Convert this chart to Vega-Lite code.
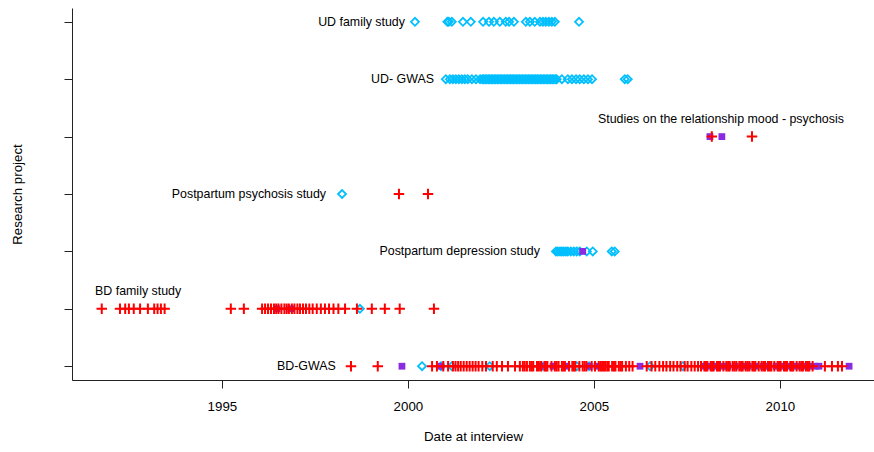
{
  "$schema": "https://vega.github.io/schema/vega-lite/v6.json",
  "width": 802,
  "height": 372,
  "autosize": {"type": "none"},
  "padding": {"left": 72, "top": 8, "right": 0, "bottom": 72},
  "background": "white",
  "config": {
    "view": {"stroke": null},
    "font": "Liberation Sans",
    "axis": {"domainColor": "#222", "tickColor": "#222", "labelColor": "#000", "titleColor": "#000", "labelFont": "Liberation Sans", "titleFont": "Liberation Sans", "labelFontSize": 13.3, "titleFontSize": 13.3, "titleFontWeight": "normal", "grid": false, "tickSize": 8}
  },
  "datasets": {
    "points": [
      {"row": 7, "date": 2000.19, "group": "UD"}, {"row": 7, "date": 2001.06, "group": "UD"}, {"row": 7, "date": 2001.10, "group": "UD"}, {"row": 7, "date": 2001.18, "group": "UD"}, {"row": 7, "date": 2001.48, "group": "UD"}, {"row": 7, "date": 2001.69, "group": "UD"}, {"row": 7, "date": 2002.02, "group": "UD"}, {"row": 7, "date": 2002.18, "group": "UD"}, {"row": 7, "date": 2002.31, "group": "UD"}, {"row": 7, "date": 2002.47, "group": "UD"}, {"row": 7, "date": 2002.63, "group": "UD"}, {"row": 7, "date": 2002.72, "group": "UD"}, {"row": 7, "date": 2002.85, "group": "UD"}, {"row": 7, "date": 2003.17, "group": "UD"}, {"row": 7, "date": 2003.28, "group": "UD"}, {"row": 7, "date": 2003.41, "group": "UD"}, {"row": 7, "date": 2003.55, "group": "UD"}, {"row": 7, "date": 2003.63, "group": "UD"}, {"row": 7, "date": 2003.71, "group": "UD"}, {"row": 7, "date": 2003.79, "group": "UD"}, {"row": 7, "date": 2003.87, "group": "UD"}, {"row": 7, "date": 2003.95, "group": "UD"}, {"row": 7, "date": 2004.60, "group": "UD"},
      {"row": 6, "date": 2001.02, "group": "UD"}, {"row": 6, "date": 2001.13, "group": "UD"}, {"row": 6, "date": 2001.21, "group": "UD"}, {"row": 6, "date": 2001.29, "group": "UD"}, {"row": 6, "date": 2001.37, "group": "UD"}, {"row": 6, "date": 2001.45, "group": "UD"}, {"row": 6, "date": 2001.53, "group": "UD"}, {"row": 6, "date": 2001.61, "group": "UD"}, {"row": 6, "date": 2001.72, "group": "UD"}, {"row": 6, "date": 2001.83, "group": "UD"}, {"row": 6, "date": 2001.94, "group": "UD"},
      {"row": 6, "date": 2002.00, "group": "UD"}, {"row": 6, "date": 2002.04, "group": "UD"}, {"row": 6, "date": 2002.08, "group": "UD"}, {"row": 6, "date": 2002.12, "group": "UD"}, {"row": 6, "date": 2002.16, "group": "UD"}, {"row": 6, "date": 2002.20, "group": "UD"}, {"row": 6, "date": 2002.24, "group": "UD"}, {"row": 6, "date": 2002.28, "group": "UD"}, {"row": 6, "date": 2002.32, "group": "UD"}, {"row": 6, "date": 2002.36, "group": "UD"}, {"row": 6, "date": 2002.40, "group": "UD"}, {"row": 6, "date": 2002.44, "group": "UD"}, {"row": 6, "date": 2002.48, "group": "UD"}, {"row": 6, "date": 2002.52, "group": "UD"}, {"row": 6, "date": 2002.56, "group": "UD"}, {"row": 6, "date": 2002.60, "group": "UD"}, {"row": 6, "date": 2002.64, "group": "UD"}, {"row": 6, "date": 2002.68, "group": "UD"}, {"row": 6, "date": 2002.72, "group": "UD"}, {"row": 6, "date": 2002.76, "group": "UD"}, {"row": 6, "date": 2002.80, "group": "UD"}, {"row": 6, "date": 2002.84, "group": "UD"}, {"row": 6, "date": 2002.88, "group": "UD"}, {"row": 6, "date": 2002.92, "group": "UD"}, {"row": 6, "date": 2002.96, "group": "UD"}, {"row": 6, "date": 2003.00, "group": "UD"}, {"row": 6, "date": 2003.04, "group": "UD"}, {"row": 6, "date": 2003.08, "group": "UD"}, {"row": 6, "date": 2003.12, "group": "UD"}, {"row": 6, "date": 2003.16, "group": "UD"}, {"row": 6, "date": 2003.20, "group": "UD"}, {"row": 6, "date": 2003.24, "group": "UD"}, {"row": 6, "date": 2003.28, "group": "UD"}, {"row": 6, "date": 2003.32, "group": "UD"}, {"row": 6, "date": 2003.36, "group": "UD"}, {"row": 6, "date": 2003.40, "group": "UD"}, {"row": 6, "date": 2003.44, "group": "UD"}, {"row": 6, "date": 2003.48, "group": "UD"}, {"row": 6, "date": 2003.52, "group": "UD"}, {"row": 6, "date": 2003.56, "group": "UD"}, {"row": 6, "date": 2003.60, "group": "UD"}, {"row": 6, "date": 2003.64, "group": "UD"}, {"row": 6, "date": 2003.68, "group": "UD"}, {"row": 6, "date": 2003.72, "group": "UD"}, {"row": 6, "date": 2003.76, "group": "UD"}, {"row": 6, "date": 2003.80, "group": "UD"}, {"row": 6, "date": 2003.84, "group": "UD"}, {"row": 6, "date": 2003.88, "group": "UD"}, {"row": 6, "date": 2003.92, "group": "UD"}, {"row": 6, "date": 2003.96, "group": "UD"}, {"row": 6, "date": 2004.00, "group": "UD"},
      {"row": 6, "date": 2004.14, "group": "UD"}, {"row": 6, "date": 2004.30, "group": "UD"}, {"row": 6, "date": 2004.41, "group": "UD"}, {"row": 6, "date": 2004.52, "group": "UD"}, {"row": 6, "date": 2004.62, "group": "UD"}, {"row": 6, "date": 2004.73, "group": "UD"}, {"row": 6, "date": 2004.84, "group": "UD"}, {"row": 6, "date": 2004.95, "group": "UD"}, {"row": 6, "date": 2005.83, "group": "UD"}, {"row": 6, "date": 2005.91, "group": "UD"},
      {"row": 4, "date": 1998.23, "group": "UD"},
      {"row": 3, "date": 2003.98, "group": "UD"}, {"row": 3, "date": 2004.03, "group": "UD"}, {"row": 3, "date": 2004.09, "group": "UD"}, {"row": 3, "date": 2004.14, "group": "UD"}, {"row": 3, "date": 2004.19, "group": "UD"}, {"row": 3, "date": 2004.25, "group": "UD"}, {"row": 3, "date": 2004.30, "group": "UD"}, {"row": 3, "date": 2004.38, "group": "UD"}, {"row": 3, "date": 2004.46, "group": "UD"}, {"row": 3, "date": 2004.54, "group": "UD"}, {"row": 3, "date": 2004.62, "group": "UD"}, {"row": 3, "date": 2004.81, "group": "UD"}, {"row": 3, "date": 2004.97, "group": "UD"}, {"row": 3, "date": 2005.48, "group": "UD"}, {"row": 3, "date": 2005.56, "group": "UD"},
      {"row": 2, "date": 1998.71, "group": "UD"},
      {"row": 1, "date": 2000.38, "group": "UD"}, {"row": 1, "date": 2000.89, "group": "UD"}, {"row": 1, "date": 2001.18, "group": "UD"}, {"row": 1, "date": 2002.20, "group": "UD"}, {"row": 1, "date": 2003.60, "group": "UD"}, {"row": 1, "date": 2004.54, "group": "UD"}, {"row": 1, "date": 2004.87, "group": "UD"}, {"row": 1, "date": 2006.51, "group": "UD"}, {"row": 1, "date": 2007.39, "group": "UD"},

      {"row": 5, "date": 2008.12, "group": "other"}, {"row": 5, "date": 2008.44, "group": "other"},
      {"row": 3, "date": 2004.70, "group": "other"},
      {"row": 2, "date": 1996.48, "group": "other"}, {"row": 2, "date": 1996.85, "group": "other"},
      {"row": 1, "date": 1999.84, "group": "other"}, {"row": 1, "date": 2000.89, "group": "other"}, {"row": 1, "date": 2003.55, "group": "other"}, {"row": 1, "date": 2003.90, "group": "other"}, {"row": 1, "date": 2004.27, "group": "other"}, {"row": 1, "date": 2004.87, "group": "other"}, {"row": 1, "date": 2005.08, "group": "other"}, {"row": 1, "date": 2006.24, "group": "other"}, {"row": 1, "date": 2007.95, "group": "other"}, {"row": 1, "date": 2008.10, "group": "other"}, {"row": 1, "date": 2008.25, "group": "other"}, {"row": 1, "date": 2008.45, "group": "other"}, {"row": 1, "date": 2008.60, "group": "other"}, {"row": 1, "date": 2008.80, "group": "other"}, {"row": 1, "date": 2009.00, "group": "other"}, {"row": 1, "date": 2009.15, "group": "other"}, {"row": 1, "date": 2009.35, "group": "other"}, {"row": 1, "date": 2009.55, "group": "other"}, {"row": 1, "date": 2009.70, "group": "other"}, {"row": 1, "date": 2009.90, "group": "other"}, {"row": 1, "date": 2010.05, "group": "other"}, {"row": 1, "date": 2010.25, "group": "other"}, {"row": 1, "date": 2010.45, "group": "other"}, {"row": 1, "date": 2010.60, "group": "other"}, {"row": 1, "date": 2010.80, "group": "other"}, {"row": 1, "date": 2010.95, "group": "other"}, {"row": 1, "date": 2011.05, "group": "other"}, {"row": 1, "date": 2011.86, "group": "other"},

      {"row": 5, "date": 2008.17, "group": "BD"}, {"row": 5, "date": 2009.25, "group": "BD"},
      {"row": 4, "date": 1999.76, "group": "BD"}, {"row": 4, "date": 2000.54, "group": "BD"},
      {"row": 2, "date": 1991.77, "group": "BD"}, {"row": 2, "date": 1992.26, "group": "BD"}, {"row": 2, "date": 1992.40, "group": "BD"}, {"row": 2, "date": 1992.50, "group": "BD"}, {"row": 2, "date": 1992.63, "group": "BD"}, {"row": 2, "date": 1992.80, "group": "BD"}, {"row": 2, "date": 1993.01, "group": "BD"}, {"row": 2, "date": 1993.18, "group": "BD"}, {"row": 2, "date": 1993.27, "group": "BD"}, {"row": 2, "date": 1993.36, "group": "BD"}, {"row": 2, "date": 1993.46, "group": "BD"},
      {"row": 2, "date": 1995.24, "group": "BD"}, {"row": 2, "date": 1995.59, "group": "BD"},
      {"row": 2, "date": 1996.08, "group": "BD"}, {"row": 2, "date": 1996.16, "group": "BD"}, {"row": 2, "date": 1996.24, "group": "BD"}, {"row": 2, "date": 1996.32, "group": "BD"}, {"row": 2, "date": 1996.40, "group": "BD"}, {"row": 2, "date": 1996.46, "group": "BD"}, {"row": 2, "date": 1996.52, "group": "BD"}, {"row": 2, "date": 1996.60, "group": "BD"}, {"row": 2, "date": 1996.68, "group": "BD"}, {"row": 2, "date": 1996.74, "group": "BD"}, {"row": 2, "date": 1996.80, "group": "BD"}, {"row": 2, "date": 1996.88, "group": "BD"}, {"row": 2, "date": 1996.95, "group": "BD"}, {"row": 2, "date": 1997.03, "group": "BD"}, {"row": 2, "date": 1997.10, "group": "BD"}, {"row": 2, "date": 1997.18, "group": "BD"}, {"row": 2, "date": 1997.26, "group": "BD"}, {"row": 2, "date": 1997.35, "group": "BD"}, {"row": 2, "date": 1997.44, "group": "BD"}, {"row": 2, "date": 1997.55, "group": "BD"}, {"row": 2, "date": 1997.66, "group": "BD"}, {"row": 2, "date": 1997.77, "group": "BD"}, {"row": 2, "date": 1997.88, "group": "BD"}, {"row": 2, "date": 1998.00, "group": "BD"}, {"row": 2, "date": 1998.13, "group": "BD"}, {"row": 2, "date": 1998.31, "group": "BD"}, {"row": 2, "date": 1998.63, "group": "BD"}, {"row": 2, "date": 1999.03, "group": "BD"}, {"row": 2, "date": 1999.38, "group": "BD"}, {"row": 2, "date": 1999.78, "group": "BD"}, {"row": 2, "date": 2000.70, "group": "BD"},
      {"row": 1, "date": 1998.47, "group": "BD"}, {"row": 1, "date": 1999.19, "group": "BD"}, {"row": 1, "date": 2000.65, "group": "BD"}, {"row": 1, "date": 2000.78, "group": "BD"}, {"row": 1, "date": 2000.95, "group": "BD"}, {"row": 1, "date": 2001.08, "group": "BD"}, {"row": 1, "date": 2001.21, "group": "BD"}, {"row": 1, "date": 2001.28, "group": "BD"}, {"row": 1, "date": 2001.35, "group": "BD"}, {"row": 1, "date": 2001.42, "group": "BD"}, {"row": 1, "date": 2001.50, "group": "BD"}, {"row": 1, "date": 2001.58, "group": "BD"}, {"row": 1, "date": 2001.66, "group": "BD"}, {"row": 1, "date": 2001.74, "group": "BD"}, {"row": 1, "date": 2001.82, "group": "BD"}, {"row": 1, "date": 2001.90, "group": "BD"}, {"row": 1, "date": 2002.00, "group": "BD"}, {"row": 1, "date": 2002.10, "group": "BD"}, {"row": 1, "date": 2002.28, "group": "BD"}, {"row": 1, "date": 2002.39, "group": "BD"}, {"row": 1, "date": 2002.53, "group": "BD"}, {"row": 1, "date": 2002.69, "group": "BD"}, {"row": 1, "date": 2002.88, "group": "BD"},
      {"row": 1, "date": 2003.01, "group": "BD"}, {"row": 1, "date": 2003.09, "group": "BD"}, {"row": 1, "date": 2003.14, "group": "BD"}, {"row": 1, "date": 2003.20, "group": "BD"}, {"row": 1, "date": 2003.28, "group": "BD"}, {"row": 1, "date": 2003.33, "group": "BD"}, {"row": 1, "date": 2003.37, "group": "BD"}, {"row": 1, "date": 2003.47, "group": "BD"}, {"row": 1, "date": 2003.52, "group": "BD"}, {"row": 1, "date": 2003.58, "group": "BD"}, {"row": 1, "date": 2003.67, "group": "BD"}, {"row": 1, "date": 2003.71, "group": "BD"}, {"row": 1, "date": 2003.75, "group": "BD"}, {"row": 1, "date": 2003.86, "group": "BD"}, {"row": 1, "date": 2003.95, "group": "BD"}, {"row": 1, "date": 2004.00, "group": "BD"}, {"row": 1, "date": 2004.05, "group": "BD"}, {"row": 1, "date": 2004.14, "group": "BD"}, {"row": 1, "date": 2004.18, "group": "BD"}, {"row": 1, "date": 2004.22, "group": "BD"}, {"row": 1, "date": 2004.33, "group": "BD"}, {"row": 1, "date": 2004.42, "group": "BD"}, {"row": 1, "date": 2004.46, "group": "BD"}, {"row": 1, "date": 2004.50, "group": "BD"}, {"row": 1, "date": 2004.61, "group": "BD"}, {"row": 1, "date": 2004.70, "group": "BD"}, {"row": 1, "date": 2004.75, "group": "BD"}, {"row": 1, "date": 2004.80, "group": "BD"}, {"row": 1, "date": 2004.94, "group": "BD"}, {"row": 1, "date": 2005.03, "group": "BD"}, {"row": 1, "date": 2005.13, "group": "BD"}, {"row": 1, "date": 2005.18, "group": "BD"}, {"row": 1, "date": 2005.22, "group": "BD"}, {"row": 1, "date": 2005.27, "group": "BD"}, {"row": 1, "date": 2005.31, "group": "BD"}, {"row": 1, "date": 2005.36, "group": "BD"}, {"row": 1, "date": 2005.40, "group": "BD"}, {"row": 1, "date": 2005.49, "group": "BD"}, {"row": 1, "date": 2005.54, "group": "BD"}, {"row": 1, "date": 2005.58, "group": "BD"}, {"row": 1, "date": 2005.67, "group": "BD"}, {"row": 1, "date": 2005.72, "group": "BD"}, {"row": 1, "date": 2005.76, "group": "BD"}, {"row": 1, "date": 2005.86, "group": "BD"}, {"row": 1, "date": 2005.95, "group": "BD"}, {"row": 1, "date": 2006.04, "group": "BD"},
      {"row": 1, "date": 2006.42, "group": "BD"}, {"row": 1, "date": 2006.55, "group": "BD"}, {"row": 1, "date": 2006.65, "group": "BD"}, {"row": 1, "date": 2006.76, "group": "BD"}, {"row": 1, "date": 2006.86, "group": "BD"}, {"row": 1, "date": 2006.95, "group": "BD"}, {"row": 1, "date": 2007.05, "group": "BD"}, {"row": 1, "date": 2007.14, "group": "BD"}, {"row": 1, "date": 2007.24, "group": "BD"}, {"row": 1, "date": 2007.33, "group": "BD"}, {"row": 1, "date": 2007.44, "group": "BD"}, {"row": 1, "date": 2007.52, "group": "BD"}, {"row": 1, "date": 2007.62, "group": "BD"}, {"row": 1, "date": 2007.71, "group": "BD"}, {"row": 1, "date": 2007.80, "group": "BD"},
      {"row": 1, "date": 2007.88, "group": "BD"}, {"row": 1, "date": 2007.97, "group": "BD"}, {"row": 1, "date": 2008.01, "group": "BD"}, {"row": 1, "date": 2008.05, "group": "BD"}, {"row": 1, "date": 2008.14, "group": "BD"}, {"row": 1, "date": 2008.18, "group": "BD"}, {"row": 1, "date": 2008.22, "group": "BD"}, {"row": 1, "date": 2008.31, "group": "BD"}, {"row": 1, "date": 2008.35, "group": "BD"}, {"row": 1, "date": 2008.39, "group": "BD"}, {"row": 1, "date": 2008.48, "group": "BD"}, {"row": 1, "date": 2008.56, "group": "BD"}, {"row": 1, "date": 2008.61, "group": "BD"}, {"row": 1, "date": 2008.65, "group": "BD"}, {"row": 1, "date": 2008.73, "group": "BD"}, {"row": 1, "date": 2008.78, "group": "BD"}, {"row": 1, "date": 2008.83, "group": "BD"}, {"row": 1, "date": 2008.91, "group": "BD"}, {"row": 1, "date": 2008.96, "group": "BD"}, {"row": 1, "date": 2009.00, "group": "BD"}, {"row": 1, "date": 2009.08, "group": "BD"}, {"row": 1, "date": 2009.13, "group": "BD"}, {"row": 1, "date": 2009.18, "group": "BD"}, {"row": 1, "date": 2009.26, "group": "BD"}, {"row": 1, "date": 2009.30, "group": "BD"}, {"row": 1, "date": 2009.34, "group": "BD"}, {"row": 1, "date": 2009.43, "group": "BD"}, {"row": 1, "date": 2009.51, "group": "BD"}, {"row": 1, "date": 2009.56, "group": "BD"}, {"row": 1, "date": 2009.60, "group": "BD"}, {"row": 1, "date": 2009.68, "group": "BD"}, {"row": 1, "date": 2009.73, "group": "BD"}, {"row": 1, "date": 2009.77, "group": "BD"}, {"row": 1, "date": 2009.85, "group": "BD"}, {"row": 1, "date": 2009.94, "group": "BD"}, {"row": 1, "date": 2009.98, "group": "BD"}, {"row": 1, "date": 2010.02, "group": "BD"}, {"row": 1, "date": 2010.11, "group": "BD"}, {"row": 1, "date": 2010.15, "group": "BD"}, {"row": 1, "date": 2010.19, "group": "BD"}, {"row": 1, "date": 2010.28, "group": "BD"}, {"row": 1, "date": 2010.32, "group": "BD"}, {"row": 1, "date": 2010.36, "group": "BD"}, {"row": 1, "date": 2010.45, "group": "BD"}, {"row": 1, "date": 2010.53, "group": "BD"}, {"row": 1, "date": 2010.58, "group": "BD"}, {"row": 1, "date": 2010.62, "group": "BD"}, {"row": 1, "date": 2010.70, "group": "BD"}, {"row": 1, "date": 2010.75, "group": "BD"}, {"row": 1, "date": 2010.79, "group": "BD"}, {"row": 1, "date": 2010.88, "group": "BD"},
      {"row": 1, "date": 2011.21, "group": "BD"}, {"row": 1, "date": 2011.40, "group": "BD"}, {"row": 1, "date": 2011.56, "group": "BD"}, {"row": 1, "date": 2011.67, "group": "BD"}
    ],
    "labels": [
      {"label": "UD family study", "date": 1999.92, "row": 7, "side": "end"},
      {"label": "UD- GWAS", "date": 2000.70, "row": 6, "side": "end"},
      {"label": "Studies on the relationship mood - psychosis", "date": 2005.11, "row": 5, "side": "above"},
      {"label": "Postpartum psychosis study", "date": 1997.80, "row": 4, "side": "end"},
      {"label": "Postpartum depression study", "date": 2003.55, "row": 3, "side": "end"},
      {"label": "BD family study", "date": 1991.59, "row": 2, "side": "above"},
      {"label": "BD-GWAS", "date": 1998.06, "row": 1, "side": "end"}
    ]
  },
  "encoding": {
    "x": {"field": "date", "type": "quantitative", "scale": {"domain": [1990.97, 2012.53], "nice": false, "zero": false}, "axis": {"values": [1995, 2000, 2005, 2010], "format": "d", "title": "Date at interview", "labelPadding": 11, "titlePadding": 17}},
    "y": {"field": "row", "type": "quantitative", "scale": {"domain": [0.76, 7.24], "nice": false, "zero": false}, "axis": {"values": [1, 2, 3, 4, 5, 6, 7], "labels": false, "title": "Research project", "titlePadding": 39}}
  },
  "layer": [
    {
      "data": {"name": "points"},
      "transform": [{"filter": "datum.group === 'UD'"}],
      "mark": {"type": "point", "shape": "diamond", "filled": false, "color": "#00BFFF", "strokeWidth": 1.8, "size": 64, "opacity": 1}
    },
    {
      "data": {"name": "points"},
      "transform": [{"filter": "datum.group === 'other'"}],
      "mark": {"type": "point", "shape": "square", "filled": true, "color": "#8A2BE2", "size": 46, "opacity": 1}
    },
    {
      "data": {"name": "points"},
      "transform": [{"filter": "datum.group === 'BD'"}],
      "mark": {"type": "point", "shape": "M-1,0L1,0M0,-1L0,1", "filled": false, "color": "#FF0000", "strokeWidth": 2, "size": 110, "opacity": 1}
    },
    {
      "data": {"name": "labels"},
      "transform": [{"filter": "datum.side === 'end'"}],
      "mark": {"type": "text", "align": "right", "baseline": "middle", "font": "Liberation Sans", "fontSize": 12.4, "color": "#000"},
      "encoding": {"text": {"field": "label"}}
    },
    {
      "data": {"name": "labels"},
      "transform": [{"filter": "datum.side === 'above'"}],
      "mark": {"type": "text", "align": "left", "baseline": "middle", "dy": -18, "font": "Liberation Sans", "fontSize": 12.4, "color": "#000"},
      "encoding": {"text": {"field": "label"}}
    },
    {
      "data": {"values": [{}]},
      "mark": {"type": "rule", "color": "#333", "strokeWidth": 1},
      "encoding": {"x": {"datum": 1990.97}, "x2": {"datum": 2012.53}, "y": {"datum": 7.24}}
    }
  ]
}
